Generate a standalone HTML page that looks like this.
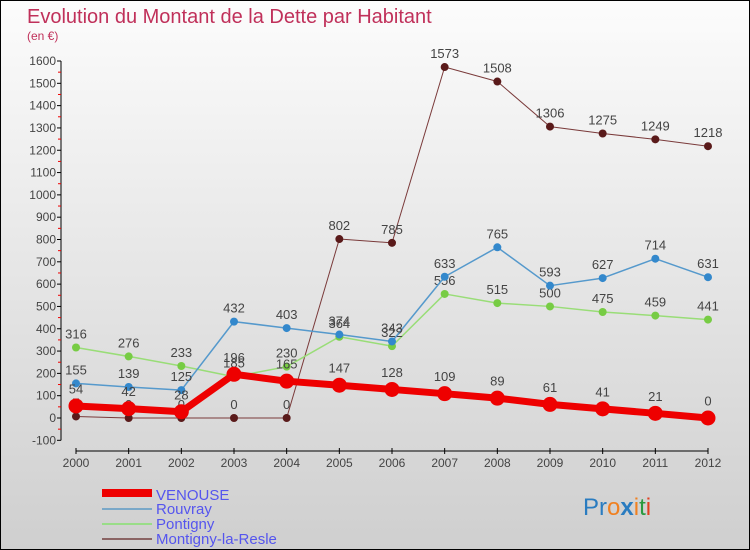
<!DOCTYPE html>
<html><head><meta charset="utf-8"><style>
body{margin:0;}
#c{width:750px;height:550px;position:relative;box-sizing:border-box;border:1px solid #000;background:linear-gradient(#fcfcfc,#cfcfcf);overflow:hidden;font-family:"Liberation Sans",sans-serif;}
text{font-family:"Liberation Sans",sans-serif;}
</style></head><body>
<div id="c">
<svg id="s" width="750" height="550">
<text x="26" y="22" font-size="20" fill="#c0305a">Evolution du Montant de la Dette par Habitant</text>
<text x="26" y="39" font-size="12" fill="#c0305a">(en €)</text>
<g id="ax"></g><g id="ser"></g>
<g>
<rect x="101" y="488" width="50" height="8" fill="#e00"/>
<text x="155" y="499" font-size="15" fill="#5555ee">VENOUSE</text>
<rect x="101" y="507" width="50" height="2" fill="#7aa8c8"/>
<text x="155" y="513" font-size="15" fill="#5555ee">Rouvray</text>
<rect x="101" y="522" width="50" height="2" fill="#99dd88"/>
<text x="155" y="528" font-size="15" fill="#5555ee">Pontigny</text>
<rect x="101" y="537" width="50" height="2" fill="#8a6464"/>
<text x="155" y="543" font-size="15" fill="#5555ee">Montigny-la-Resle</text>
</g>
<text x="582" y="514" font-size="24"><tspan fill="#2a7cc0">Pr</tspan><tspan fill="#f08020">o</tspan><tspan fill="#2a7cc0" font-weight="bold">x</tspan><tspan fill="#f08020">i</tspan><tspan fill="#2a9a40">t</tspan><tspan fill="#e04020">i</tspan></text>
</svg></div>
<script>
const years=[2000,2001,2002,2003,2004,2005,2006,2007,2008,2009,2010,2011,2012];
const venouse=[54,42,28,196,165,147,128,109,89,61,41,21,0];
const rouvray=[155,139,125,432,403,374,343,633,765,593,627,714,631];
const pontigny=[316,276,233,185,230,364,322,556,515,500,475,459,441];
const montigny=[7,0,0,0,0,802,785,1573,1508,1306,1275,1249,1218];
const yTicks=[-100,0,100,200,300,400,500,600,700,800,900,1000,1100,1200,1300,1400,1500,1600];
const NS="http://www.w3.org/2000/svg";
const X=i=>75+i*(707-75)/(years.length-1);
const Y=v=>417-v*(417-60)/1600;
function mk(t,a,p){const e=document.createElementNS(NS,t);for(const k in a)e.setAttribute(k,a[k]);p.appendChild(e);return e;}
const ax=document.getElementById('ax'),ser=document.getElementById('ser');
let l=mk('line',{x1:60,y1:Y(1600),x2:60,y2:Y(-100),stroke:'#000','stroke-width':1},ax);


yTicks.forEach(v=>{
 mk('line',{x1:56,y1:Y(v),x2:60,y2:Y(v),stroke:'#000'},ax);
 if(v<1600) mk('line',{x1:57,y1:Y(v+50),x2:60,y2:Y(v+50),stroke:'#e00'},ax);
 const t=mk('text',{x:55,y:Y(v)+4,'font-size':12,fill:'#444','text-anchor':'end'},ax);t.textContent=v;
 
 
});
l=mk('line',{x1:75,y1:450,x2:707,y2:450,stroke:'#000'},ax);


years.forEach((y,i)=>{
 mk('line',{x1:X(i),y1:447,x2:X(i),y2:453,stroke:'#000'},ax);
 const t=mk('text',{x:X(i),y:466,'font-size':12,fill:'#444','text-anchor':'middle'},ax);t.textContent=y;
 
 
});
function series(name,vals,col,dot,w,r){
 const g=mk('g',{},ser);
 
 
 mk('polyline',{points:vals.map((v,i)=>X(i)+','+Y(v)).join(' '),fill:'none',stroke:col,'stroke-width':w,'stroke-linejoin':'round'},g);
 vals.forEach((v,i)=>{
  const c=mk('circle',{cx:X(i),cy:Y(v),r:r,fill:dot},g);
  
  
  const t=mk('text',{x:X(i),y:Y(v)-r-5,'font-size':13,fill:'#444','text-anchor':'middle'},g);t.textContent=v;
  
  
 });
}
series('montigny',montigny,'#7a3a3a','#5a1a1a',1,4);
series('pontigny',pontigny,'#99dd77','#77cc44',1.5,4);
series('rouvray',rouvray,'#5599cc','#3388cc',1.5,4);
series('venouse',venouse,'#ee0000','#ee0000',7,7.5);
</script>
</body></html>
